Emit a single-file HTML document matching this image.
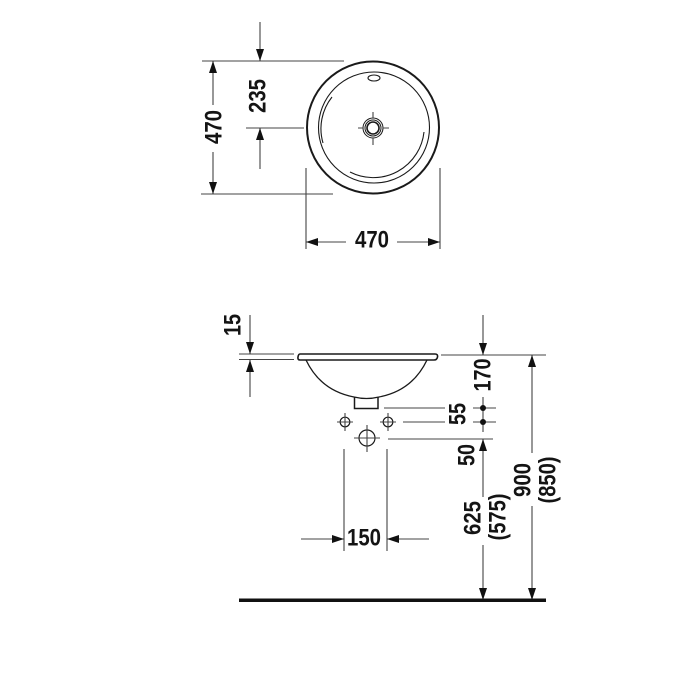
<!DOCTYPE html>
<html>
<head>
<meta charset="utf-8">
<style>
html,body{margin:0;padding:0;background:#fff;width:700px;height:700px;overflow:hidden}
svg{display:block}
text{font-family:"Liberation Sans",sans-serif;font-weight:bold;font-size:24px;fill:#141414;text-anchor:middle;dominant-baseline:central}
.d{stroke:#444;stroke-width:1.1;fill:none}
.o{stroke:#1a1a1a;fill:none}
</style>
</head>
<body>
<svg width="700" height="700" viewBox="0 0 700 700" xmlns="http://www.w3.org/2000/svg">
<defs>
<marker id="a" markerUnits="userSpaceOnUse" markerWidth="12" markerHeight="8" refX="12" refY="4" orient="auto-start-reverse">
<path d="M0 0L12 4L0 8Z" fill="#111"/>
</marker>
</defs>

<!-- Top view -->
<circle class="o" cx="373" cy="127.5" r="66" stroke-width="2"/>
<circle class="o" cx="374" cy="127.5" r="55.5" stroke-width="1.1" stroke="#444"/>
<path class="o" d="M332 97A51 51 0 0 0 323 143" stroke-width="1.1" stroke="#666"/>
<path class="o" d="M350 172A51 51 0 0 0 424 132" stroke-width="1.1" stroke="#666"/>
<ellipse class="o" cx="374" cy="78" rx="6" ry="3" stroke-width="1.1"/>
<circle class="o" cx="373" cy="128" r="10" stroke-width="1"/>
<circle class="o" cx="373" cy="128" r="8" stroke-width="1"/>
<circle class="o" cx="373" cy="128" r="6" stroke-width="1.6"/>
<path class="d" d="M358 128H363M383 128H389M373 112V118M373 138V145"/>

<path class="d" d="M202 61H344M201 194H333"/>
<path class="d" d="M213 105V61" marker-end="url(#a)"/>
<path class="d" d="M213 152V194" marker-end="url(#a)"/>
<text transform="translate(214 127) rotate(-90)" textLength="34" lengthAdjust="spacingAndGlyphs">470</text>

<path class="d" d="M260 22V61" marker-end="url(#a)"/>
<path class="d" d="M246 128H304"/>
<path class="d" d="M260 169V128" marker-end="url(#a)"/>
<text transform="translate(258 96) rotate(-90)" textLength="34" lengthAdjust="spacingAndGlyphs">235</text>

<path class="d" d="M306 168V249M440 168V249"/>
<path class="d" d="M346 242H306" marker-end="url(#a)"/>
<path class="d" d="M397 242H440" marker-end="url(#a)"/>
<text x="372" y="240" textLength="34" lengthAdjust="spacingAndGlyphs">470</text>

<!-- Side view -->
<path class="o" stroke-width="1.6" d="M300 354H435Q438 354 437.500 357Q437 360 434 360H300Q297.500 360 298 357Q298.500 354 300 354Z"/>
<path class="o" stroke-width="1.3" d="M306 360C316 381 333 393 354 397"/>
<path class="o" stroke-width="1.3" d="M427 360C417 381 400 393 379 397"/>
<path class="o" stroke-width="1.2" d="M354 397Q366.500 400 379 397"/>
<path class="o" stroke-width="1.5" d="M354.500 397V408.500H378V397"/>

<circle class="o" cx="345" cy="422" r="4.800" stroke-width="1.2"/>
<circle class="o" cx="388" cy="422" r="4.800" stroke-width="1.2"/>
<circle class="o" cx="367" cy="438" r="8" stroke-width="1.2"/>
<path class="d" d="M337 422H353M345 413V431M380 422H396M388 413V431M354 438H380M367 425V452"/>

<path class="d" d="M239 354H294M239 359.500H294"/>
<path class="d" d="M250 315V354" marker-end="url(#a)"/>
<path class="d" d="M250 397V360" marker-end="url(#a)"/>
<text transform="translate(233 325) rotate(-90)" textLength="22" lengthAdjust="spacingAndGlyphs">15</text>

<path class="d" d="M441 355H546M384 408H445M403 422H445M388 439H493"/>
<path class="d" d="M473 408H496M473 422H496M483 397V432"/>
<circle cx="483" cy="408" r="3" fill="#111"/>
<circle cx="483" cy="422" r="3" fill="#111"/>

<path class="d" d="M483 315V355" marker-end="url(#a)"/>
<path class="d" d="M483 497V439" marker-end="url(#a)"/>
<path class="d" d="M483 545V600" marker-end="url(#a)"/>
<path class="d" d="M532 453V355" marker-end="url(#a)"/>
<path class="d" d="M532 506V600" marker-end="url(#a)"/>

<text transform="translate(483 375) rotate(-90)" textLength="33" lengthAdjust="spacingAndGlyphs">170</text>
<text transform="translate(458 414) rotate(-90)" textLength="22" lengthAdjust="spacingAndGlyphs">55</text>
<text transform="translate(467 455) rotate(-90)" textLength="22" lengthAdjust="spacingAndGlyphs">50</text>
<text transform="translate(473 518) rotate(-90)" textLength="34" lengthAdjust="spacingAndGlyphs">625</text>
<text transform="translate(498 517) rotate(-90)" textLength="47" lengthAdjust="spacingAndGlyphs">(575)</text>
<text transform="translate(523 480) rotate(-90)" textLength="34" lengthAdjust="spacingAndGlyphs">900</text>
<text transform="translate(548 480) rotate(-90)" textLength="47" lengthAdjust="spacingAndGlyphs">(850)</text>

<path class="d" d="M344 449V551M387 449V551"/>
<path class="d" d="M301 539H344" marker-end="url(#a)"/>
<path class="d" d="M429 539H387" marker-end="url(#a)"/>
<text x="364" y="538" textLength="34" lengthAdjust="spacingAndGlyphs">150</text>

<rect x="239" y="598.500" width="307" height="3.500" fill="#111"/>
</svg>
</body>
</html>
